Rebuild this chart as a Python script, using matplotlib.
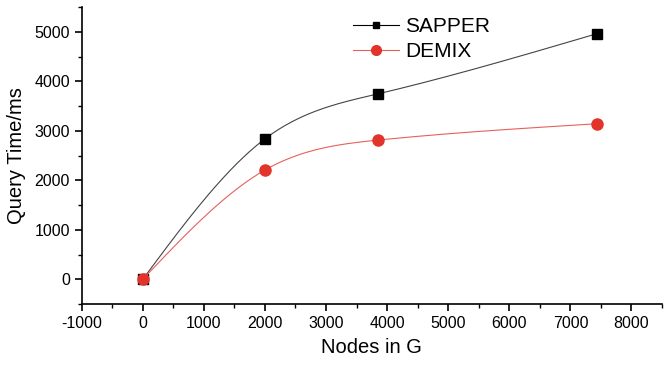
import matplotlib
matplotlib.use("Agg")
import matplotlib.pyplot as plt
import numpy as np
from matplotlib.ticker import MultipleLocator

plt.rcParams['font.family'] = ['Liberation Sans', 'DejaVu Sans']
plt.rcParams['axes.unicode_minus'] = False

nodes = [0, 2000, 3850, 7430]
sapper = [0, 2840, 3750, 4965]
demix = [0, 2210, 2815, 3145]


def natural_spline(x, y, n=300):
    # natural cubic spline through the points, like Origin's spline connector
    x = np.asarray(x, float)
    y = np.asarray(y, float)
    k = len(x)
    h = np.diff(x)
    A = np.zeros((k, k))
    b = np.zeros(k)
    A[0, 0] = A[-1, -1] = 1
    for i in range(1, k - 1):
        A[i, i - 1] = h[i - 1]
        A[i, i] = 2 * (h[i - 1] + h[i])
        A[i, i + 1] = h[i]
        b[i] = 6 * ((y[i + 1] - y[i]) / h[i] - (y[i] - y[i - 1]) / h[i - 1])
    M = np.linalg.solve(A, b)
    xs = np.linspace(x[0], x[-1], n)
    idx = np.clip(np.searchsorted(x, xs) - 1, 0, k - 2)
    x0, x1 = x[idx], x[idx + 1]
    hh = x1 - x0
    ys = (M[idx] * (x1 - xs) ** 3 / (6 * hh) + M[idx + 1] * (xs - x0) ** 3 / (6 * hh)
          + (y[idx] / hh - M[idx] * hh / 6) * (x1 - xs)
          + (y[idx + 1] / hh - M[idx + 1] * hh / 6) * (xs - x0))
    return xs, ys


fig = plt.figure(figsize=(6.64, 3.65), dpi=100)
ax = fig.add_axes([0.123, 0.167, 0.874, 0.813])

red = '#e2342a'
xs, ys = natural_spline(nodes, sapper)
ax.plot(xs, ys, color='#444444', lw=0.8)
ax.plot(nodes, sapper, 's', color='black', ms=7)
xs, ys = natural_spline(nodes, demix)
ax.plot(xs, ys, color='#e8605a', lw=0.8)
ax.plot(nodes, demix, 'o', color=red, ms=8)

ax.set_xlim(-1000, 8500)
ax.set_ylim(-500, 5500)
ax.set_xticks(range(-1000, 8001, 1000))
ax.set_yticks(range(0, 5001, 1000))
ax.xaxis.set_minor_locator(MultipleLocator(500))
ax.yaxis.set_minor_locator(MultipleLocator(500))
ax.spines['top'].set_visible(False)
ax.spines['right'].set_visible(False)
for s in ('left', 'bottom'):
    ax.spines[s].set_linewidth(1.2)
ax.tick_params(which='major', direction='out', length=5, width=1.2, labelsize=11.5)
ax.tick_params(which='minor', direction='out', length=3, width=1.0)

ax.set_xlabel('Nodes in G', fontsize=14.5, labelpad=5)
ax.set_ylabel('Query Time/ms', fontsize=14.5, labelpad=6)

# legend proxies with line + marker
h1, = ax.plot([], [], '-s', color='black', lw=0.8, ms=5)
h2, = ax.plot([], [], '-o', color='#e8605a', lw=0.8, ms=7,
              markerfacecolor=red, markeredgecolor=red)
ax.legend([h1, h2], ['SAPPER', 'DEMIX'], loc='upper left', bbox_to_anchor=(0.467, 0.968),
          frameon=False, fontsize=15, handlelength=2.2, handletextpad=0.3,
          labelspacing=0.3, borderpad=0, borderaxespad=0)

fig.savefig('out.png', dpi=100)
